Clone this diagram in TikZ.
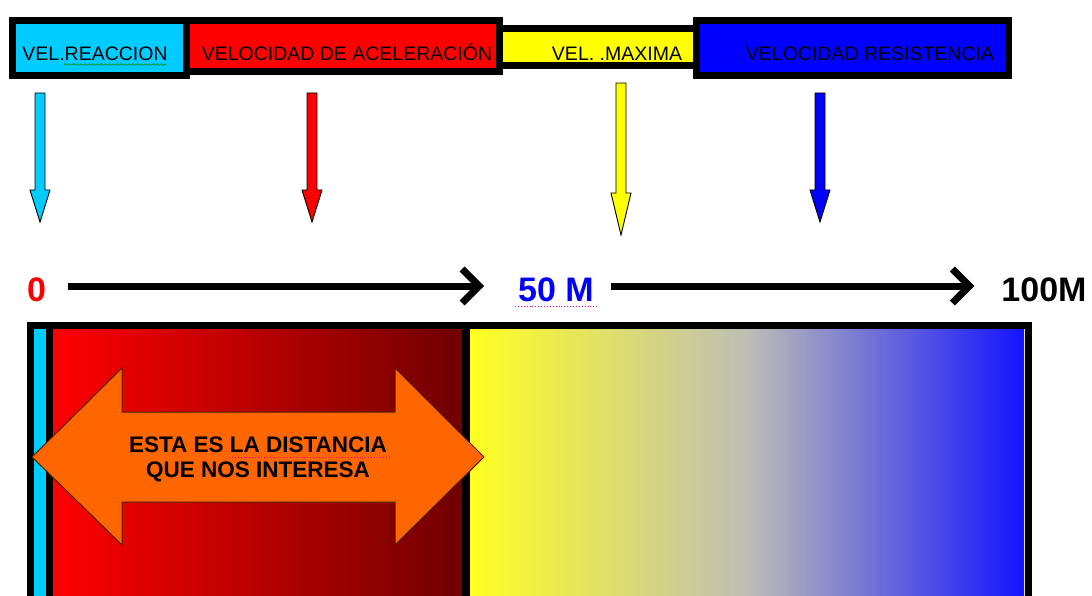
\documentclass[tikz,border=0pt]{standalone}
\usepackage{fontspec}
\setmainfont{Liberation Sans}
\usetikzlibrary{arrows.meta,positioning,decorations.pathmorphing}

\definecolor{reaccion}{RGB}{0,204,255}
\definecolor{aceleracion}{RGB}{255,0,0}
\definecolor{maxima}{RGB}{255,255,0}
\definecolor{resistencia}{RGB}{0,0,255}
\definecolor{oscuro}{RGB}{112,0,0}
\definecolor{amarillo}{RGB}{255,255,32}
\definecolor{gris}{RGB}{190,190,182}
\definecolor{azul}{RGB}{20,20,255}
\definecolor{naranja}{RGB}{255,102,0}

\tikzset{
  bar/.style={draw=black, line width=7pt, inner sep=0pt},
  bartext/.style={font=\fontsize{19.5}{19.5}\selectfont, anchor=base, inner sep=0pt},
  numtext/.style={font=\fontsize{34}{34}\selectfont\bfseries, inner sep=0pt},
  axis/.style={line width=7pt, -{Straight Barb[length=17pt,width=34pt]}},
  drop/.style={draw=black, line width=0.9pt, line join=miter},
  spell/.style={line width=0.9pt, dotted, magenta}
}
\newcommand{\dropArrow}[5]{%
  \draw[drop, fill=#5] ({#1-5},#2) -- ({#1+5},#2) -- ({#1+5},#3) -- ({#1+10},#3)
    -- (#1,#4) -- ({#1-10},#3) -- ({#1-5},#3) -- cycle;}

\begin{document}
\begin{tikzpicture}[x=1pt, y=-1pt]
\useasboundingbox (0,0) rectangle (1092,596);
\clip (0,0) rectangle (1092,596);
\fill[white] (0,0) rectangle (1092,596);

\node[bar, fill=maxima, minimum width=197pt, minimum height=37pt] (maxi) at (597.5,47) {};
\node[bar, fill=reaccion, minimum width=174pt, minimum height=55pt] (reac) at (99,48.5) {};
\node[bar, fill=aceleracion, minimum width=313pt, minimum height=51pt] (acel) at (342.5,46.5) {};
\node[bar, fill=resistencia, minimum width=312pt, minimum height=55pt] (resis) at (852,48.5) {};

\node[bartext] (reacT) at (95,61) {VEL.REACCION};
\node[bartext] (acelT) at (347,61) {VELOCIDAD DE ACELERACIÓN};
\node[bartext] (maxiT) at (617,61) {VEL. .MAXIMA};
\node[bartext] (resisT) at (870,61) {VELOCIDAD RESISTENCIA};
\draw[green!55!black, line width=0.7pt, decorate, decoration={snake, amplitude=1pt, segment length=4pt}] (64,64.5) -- (166,64.5);

\dropArrow{40}{93}{190}{222}{reaccion}
\dropArrow{312}{93}{190}{222}{aceleracion}
\dropArrow{621}{83}{193}{235}{maxima}
\dropArrow{820}{93}{190}{222}{resistencia}

\node[numtext, text=aceleracion] (cero) at (36.5,289.5) {0};
\node[numtext, text=resistencia] (cincuenta) at (556,289.5) {50 M};
\node[numtext] (cien) at (1044,289.5) {100M};
\draw[spell] (515,306.5) -- (597,306.5);

\draw[axis, shorten <=22pt, shorten >=34pt] ([yshift=3.5pt]cero.east) -- ([yshift=3.5pt]cincuenta.west);
\draw[axis, shorten <=17pt, shorten >=27pt] ([yshift=3.5pt]cincuenta.east) -- ([yshift=3.5pt]cien.west);

\fill[reaccion] (34,329) rectangle (46,600);
\shade[left color=aceleracion, right color=oscuro] (53,329) rectangle (462,600);
\shade[left color=amarillo, right color=azul, middle color=gris] (470,329) rectangle (1024,600);
\draw[line width=7pt] (49.5,329) -- (49.5,600);
\draw[line width=8pt] (466,329) -- (466,600);
\draw[line width=7pt] (30.5,325.5) rectangle (1028,620);

\draw[fill=naranja, draw=black!70!naranja, line width=1pt] (32,457) -- (122,368) -- (122,412)
  -- (395,412) -- (395,368) -- (484,457) -- (395,545) -- (395,502) -- (122,502) -- (122,545) -- cycle;
\node[font=\fontsize{22.5}{25}\selectfont\bfseries, align=center] (distancia) at (258,459) {ESTA ES LA DISTANCIA\\QUE NOS INTERESA};
\draw[spell] (229,457) -- (389,457);
\end{tikzpicture}
\end{document}
